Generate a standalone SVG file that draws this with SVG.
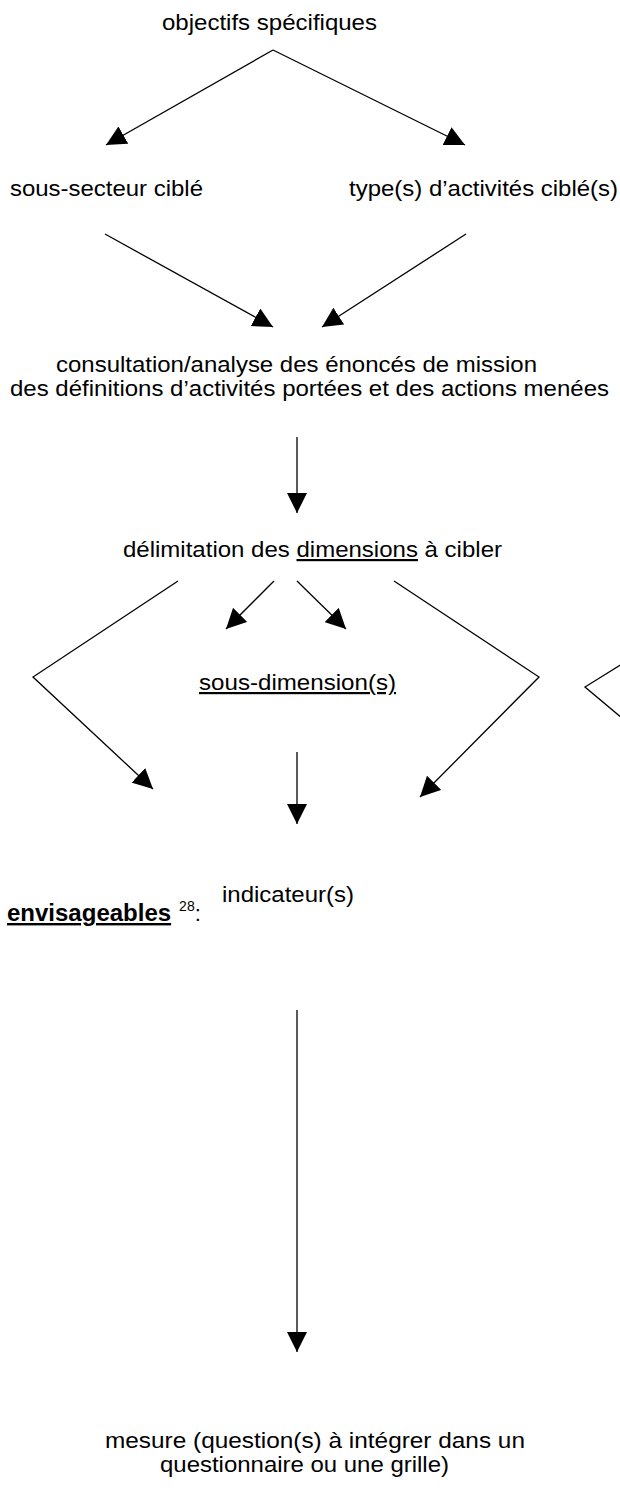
<svg xmlns="http://www.w3.org/2000/svg" width="620" height="1491" viewBox="0 0 620 1491">
<style>
text{font-family:"Liberation Sans",Arial,sans-serif;font-size:22px;fill:#000}
.c{stroke:#000;stroke-width:1.3;fill:none}
.u{text-decoration:underline}
.b{font-weight:bold;font-size:24px}
</style>
<defs>
<marker id="ah" markerUnits="userSpaceOnUse" markerWidth="20" markerHeight="20" refX="20" refY="10" orient="auto">
<path d="M0,0 L20,10 L0,20 z" fill="#000"/>
</marker>
</defs>
<rect width="620" height="1491" fill="#fff"/>
<g id="connectors">
<path class="c" d="M273,50 L106,145" marker-end="url(#ah)"/>
<path class="c" d="M273,50 L465,145" marker-end="url(#ah)"/>
<path class="c" d="M105,234 L273,327" marker-end="url(#ah)"/>
<path class="c" d="M466,234 L322,327" marker-end="url(#ah)"/>
<path class="c" d="M297,437 L297,513" marker-end="url(#ah)"/>
<path class="c" d="M178,581 L33,677 L153,789" marker-end="url(#ah)"/>
<path class="c" d="M274,581 L226,629" marker-end="url(#ah)"/>
<path class="c" d="M297,581 L346,629" marker-end="url(#ah)"/>
<path class="c" d="M394,581 L539,677 L420,797" marker-end="url(#ah)"/>
<path class="c" d="M622,664 L585,687 L622,718"/>
<path class="c" d="M297,752 L297,824" marker-end="url(#ah)"/>
<path class="c" d="M297,1010 L297,1352" marker-end="url(#ah)"/>
</g>
<g id="n-objectifs"><text x="162" y="30" textLength="215" lengthAdjust="spacingAndGlyphs">objectifs spécifiques</text></g>
<g id="n-sous-secteur"><text x="10" y="196" textLength="193" lengthAdjust="spacingAndGlyphs">sous-secteur ciblé</text></g>
<g id="n-type"><text x="349" y="196" textLength="269" lengthAdjust="spacingAndGlyphs">type(s) d’activités ciblé(s)</text></g>
<g id="n-consultation">
<text x="56" y="372" textLength="481" lengthAdjust="spacingAndGlyphs">consultation/analyse des énoncés de mission</text>
<text x="10" y="396" textLength="599" lengthAdjust="spacingAndGlyphs">des définitions d’activités portées et des actions menées</text>
</g>
<g id="n-delimitation"><text x="123" y="557" textLength="379" lengthAdjust="spacingAndGlyphs">délimitation des <tspan class="u">dimensions</tspan> à cibler</text></g>
<g id="n-sous-dimension"><text x="199" y="690" class="u" textLength="197" lengthAdjust="spacingAndGlyphs">sous-dimension(s)</text></g>
<g id="n-indicateur">
<text x="222" y="902" textLength="132" lengthAdjust="spacingAndGlyphs">indicateur(s)</text>
<text x="7" y="921"><tspan class="b u">envisageables</tspan><tspan font-size="14" dx="8" dy="-10">28</tspan><tspan dy="10">:</tspan></text>
</g>
<g id="n-mesure">
<text x="105" y="1448" textLength="420" lengthAdjust="spacingAndGlyphs">mesure (question(s) à intégrer dans un</text>
<text x="160" y="1472" textLength="289" lengthAdjust="spacingAndGlyphs">questionnaire ou une grille)</text>
</g>
</svg>
